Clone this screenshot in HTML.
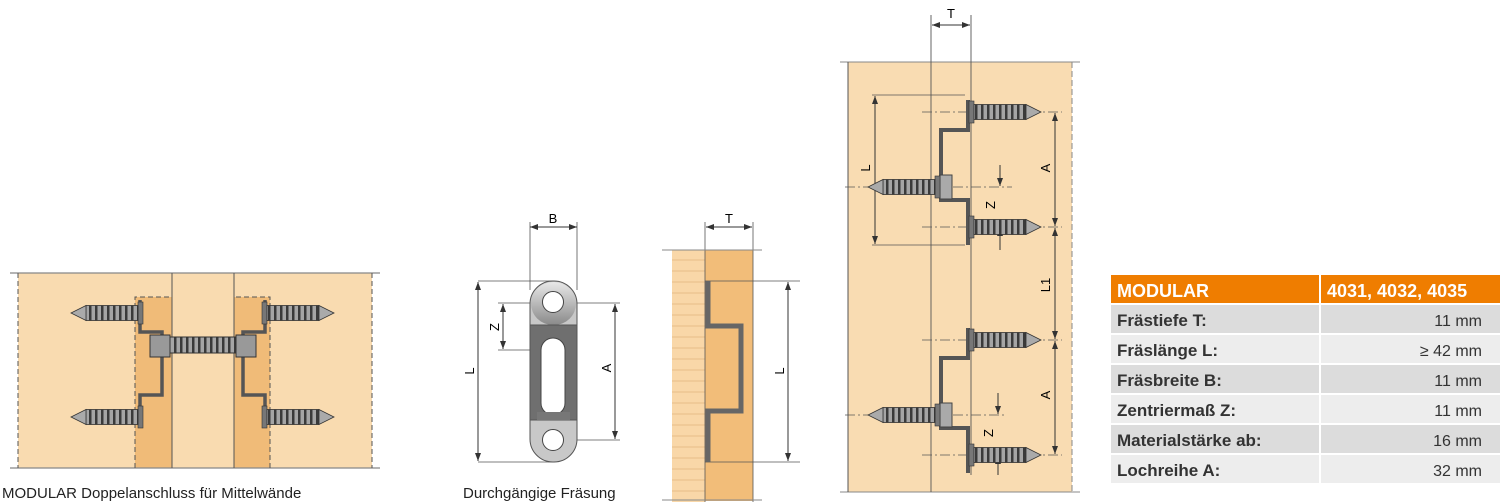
<!DOCTYPE html>
<html><head><meta charset="utf-8"><style>
html,body{margin:0;padding:0;background:#fff;}
svg{display:block;font-family:"Liberation Sans",sans-serif;}
</style></head><body>
<svg width="1500" height="502" viewBox="0 0 1500 502" xmlns="http://www.w3.org/2000/svg">
<defs>
<pattern id="thr" width="6" height="20" patternUnits="userSpaceOnUse">
<rect width="6" height="20" fill="#a5a5a5"/><rect width="2.5" height="20" fill="#3a3a3a"/>
</pattern>
<linearGradient id="pl" x1="0" y1="0" x2="0" y2="1"><stop offset="0" stop-color="#e8e8e8"/><stop offset="1" stop-color="#8a8a8a"/></linearGradient>
<g id="scrR">
<rect x="0" y="-11" width="5" height="22" fill="#777" stroke="#333" stroke-width="0.6"/>
<rect x="5" y="-7.5" width="52" height="15" fill="url(#thr)" stroke="#333" stroke-width="0.8"/>
<polygon points="57,-7.5 72,0 57,7.5" fill="#aaa" stroke="#333" stroke-width="0.8"/>
</g>
<g id="scrL">
<rect x="-5" y="-11" width="5" height="22" fill="#777" stroke="#333" stroke-width="0.6"/>
<rect x="-57" y="-7.5" width="52" height="15" fill="url(#thr)" stroke="#333" stroke-width="0.8"/>
<polygon points="-57,-7.5 -72,0 -57,7.5" fill="#aaa" stroke="#333" stroke-width="0.8"/>
</g>
<marker id="ar" markerWidth="8" markerHeight="6" refX="8" refY="3" orient="auto-start-reverse"><path d="M0,0 L8,3 L0,6 z" fill="#333"/></marker>
</defs>

<!-- LEFT DIAGRAM -->
<rect x="18" y="273" width="354" height="195" fill="#f9dbb0"/>
<rect x="135" y="297" width="37" height="171" fill="#f0bb78"/>
<rect x="234" y="297" width="36" height="171" fill="#f0bb78"/>
<line x1="10" y1="273" x2="380" y2="273" stroke="#888" stroke-width="1.2"/>
<line x1="10" y1="468" x2="380" y2="468" stroke="#888" stroke-width="1.2"/>
<line x1="172" y1="273" x2="172" y2="468" stroke="#555"/>
<line x1="234" y1="273" x2="234" y2="468" stroke="#555"/>
<g stroke="#555" stroke-dasharray="5,3" fill="none">
<line x1="18" y1="273" x2="18" y2="468"/><line x1="372" y1="273" x2="372" y2="468"/>
<path d="M135,468 V297 H172"/><path d="M270,468 V297 H234"/>
</g>
<g stroke="#555" stroke-width="3.5" fill="none">
<path d="M140,300 V332 H162 V395 H140 V428"/><path d="M265,300 V332 H243 V395 H265 V428"/>
</g>
<use href="#scrL" x="143" y="313"/><use href="#scrL" x="143" y="417"/>
<use href="#scrR" x="262" y="313"/><use href="#scrR" x="262" y="417"/>
<rect x="170" y="337" width="66" height="16" fill="url(#thr)" stroke="#333"/>
<rect x="150" y="335" width="20" height="22" fill="#999" stroke="#333"/>
<rect x="236" y="335" width="20" height="22" fill="#999" stroke="#333"/>
<text x="2" y="498" font-size="15" fill="#222">MODULAR Doppelanschluss für Mittelwände</text>

<!-- MIDDLE: plate -->
<g stroke="#555" stroke-width="0.8" fill="none">
<line x1="530" y1="222" x2="530" y2="290"/><line x1="577" y1="222" x2="577" y2="290"/>
<line x1="478" y1="281" x2="553" y2="281"/><line x1="478" y1="462" x2="553" y2="462"/>
<line x1="498" y1="303" x2="620" y2="303"/><line x1="498" y1="350" x2="553" y2="350"/>
<line x1="553" y1="440" x2="620" y2="440"/>
</g>
<line x1="530" y1="227" x2="577" y2="227" stroke="#333" marker-start="url(#ar)" marker-end="url(#ar)"/>
<text x="553" y="223" font-size="13" text-anchor="middle">B</text>
<line x1="478" y1="282" x2="478" y2="461" stroke="#333" marker-start="url(#ar)" marker-end="url(#ar)"/>
<line x1="503" y1="304" x2="503" y2="349" stroke="#333" marker-start="url(#ar)" marker-end="url(#ar)"/>
<line x1="615" y1="304" x2="615" y2="439" stroke="#333" marker-start="url(#ar)" marker-end="url(#ar)"/>
<text transform="translate(474,371) rotate(-90)" font-size="13" text-anchor="middle">L</text>
<text transform="translate(499,327) rotate(-90)" font-size="13" text-anchor="middle">Z</text>
<text transform="translate(611,368) rotate(-90)" font-size="13" text-anchor="middle">A</text>
<rect x="530" y="281" width="47" height="181" rx="23" fill="#c8c8c8" stroke="#555"/>
<rect x="531" y="282" width="45" height="43" rx="22" fill="url(#pl)"/>
<rect x="530" y="325" width="47" height="95" fill="#6f6f6f" stroke="#555"/>
<rect x="541" y="338" width="24" height="77" rx="12" fill="#fff" stroke="#444"/>
<rect x="537" y="412" width="33" height="8" fill="#777"/>
<circle cx="553" cy="302" r="10.5" fill="#fff" stroke="#444"/>
<circle cx="553" cy="440" r="10.5" fill="#fff" stroke="#444"/>
<text x="463" y="498" font-size="15" fill="#222">Durchgängige Fräsung</text>

<!-- MIDDLE: side view -->
<rect x="672" y="250" width="33" height="252" fill="#f9d7a8"/>
<g stroke="#e2b57c" stroke-width="0.8">
<line x1="672" y1="260" x2="705" y2="260"/><line x1="672" y1="271" x2="705" y2="271"/><line x1="672" y1="282" x2="705" y2="282"/><line x1="672" y1="293" x2="705" y2="293"/><line x1="672" y1="304" x2="705" y2="304"/><line x1="672" y1="315" x2="705" y2="315"/><line x1="672" y1="326" x2="705" y2="326"/><line x1="672" y1="337" x2="705" y2="337"/><line x1="672" y1="348" x2="705" y2="348"/><line x1="672" y1="359" x2="705" y2="359"/><line x1="672" y1="370" x2="705" y2="370"/><line x1="672" y1="381" x2="705" y2="381"/><line x1="672" y1="392" x2="705" y2="392"/><line x1="672" y1="403" x2="705" y2="403"/><line x1="672" y1="414" x2="705" y2="414"/><line x1="672" y1="425" x2="705" y2="425"/><line x1="672" y1="436" x2="705" y2="436"/><line x1="672" y1="447" x2="705" y2="447"/><line x1="672" y1="458" x2="705" y2="458"/><line x1="672" y1="469" x2="705" y2="469"/><line x1="672" y1="480" x2="705" y2="480"/><line x1="672" y1="491" x2="705" y2="491"/>
</g>
<rect x="705" y="250" width="48" height="251" fill="#f2bd79"/>
<line x1="705" y1="222" x2="705" y2="502" stroke="#555" stroke-width="0.8"/>
<line x1="753" y1="222" x2="753" y2="502" stroke="#555" stroke-width="0.8"/>
<line x1="662" y1="250" x2="762" y2="250" stroke="#888"/>
<line x1="662" y1="500" x2="762" y2="500" stroke="#888"/>
<line x1="705" y1="281" x2="800" y2="281" stroke="#555" stroke-width="0.8"/>
<line x1="705" y1="462" x2="800" y2="462" stroke="#555" stroke-width="0.8"/>
<line x1="706" y1="227" x2="752" y2="227" stroke="#333" marker-start="url(#ar)" marker-end="url(#ar)"/>
<text x="729" y="223" font-size="13" text-anchor="middle">T</text>
<line x1="788" y1="282" x2="788" y2="461" stroke="#333" marker-start="url(#ar)" marker-end="url(#ar)"/>
<text transform="translate(784,371) rotate(-90)" font-size="13" text-anchor="middle">L</text>
<path d="M708,281 V326 H741 V411 H708 V462" stroke="#666" stroke-width="5" fill="none"/>

<!-- RIGHT DIAGRAM -->
<rect x="848" y="62" width="224" height="430" fill="#f9dcb2"/>
<line x1="840" y1="62" x2="1080" y2="62" stroke="#888"/>
<line x1="840" y1="492" x2="1080" y2="492" stroke="#888"/>
<line x1="848" y1="62" x2="848" y2="492" stroke="#555"/>
<line x1="1072" y1="62" x2="1072" y2="492" stroke="#888" stroke-dasharray="6,3"/>
<line x1="931" y1="15" x2="931" y2="492" stroke="#555" stroke-width="0.9"/>
<line x1="971" y1="15" x2="971" y2="475" stroke="#555" stroke-width="0.9"/>
<line x1="932" y1="25" x2="970" y2="25" stroke="#333" marker-start="url(#ar)" marker-end="url(#ar)"/>
<text x="951" y="18" font-size="13" text-anchor="middle">T</text>
<g stroke="#555" stroke-width="0.8" fill="none" stroke-dasharray="10,3,2,3">
<line x1="922" y1="112" x2="1062" y2="112"/><line x1="845" y1="187" x2="1012" y2="187"/><line x1="922" y1="227" x2="1062" y2="227"/>
<line x1="922" y1="340" x2="1062" y2="340"/><line x1="845" y1="415" x2="1005" y2="415"/><line x1="922" y1="455" x2="1062" y2="455"/>
</g>
<line x1="872" y1="95" x2="965" y2="95" stroke="#555" stroke-width="0.8"/>
<line x1="872" y1="245" x2="965" y2="245" stroke="#555" stroke-width="0.8"/>
<line x1="875" y1="96" x2="875" y2="244" stroke="#333" marker-start="url(#ar)" marker-end="url(#ar)"/>
<text transform="translate(870,168) rotate(-90)" font-size="13" text-anchor="middle">L</text>
<line x1="1055" y1="113" x2="1055" y2="226" stroke="#333" marker-start="url(#ar)" marker-end="url(#ar)"/>
<line x1="1055" y1="228" x2="1055" y2="339" stroke="#333" marker-start="url(#ar)" marker-end="url(#ar)"/>
<line x1="1055" y1="341" x2="1055" y2="454" stroke="#333" marker-start="url(#ar)" marker-end="url(#ar)"/>
<text transform="translate(1050,168) rotate(-90)" font-size="13" text-anchor="middle">A</text>
<text transform="translate(1050,285) rotate(-90)" font-size="13" text-anchor="middle">L1</text>
<text transform="translate(1050,395) rotate(-90)" font-size="13" text-anchor="middle">A</text>
<line x1="1000" y1="165" x2="1000" y2="186" stroke="#333" marker-end="url(#ar)"/>
<line x1="1000" y1="250" x2="1000" y2="228" stroke="#333" marker-end="url(#ar)"/>
<text transform="translate(995,205) rotate(-90)" font-size="13" text-anchor="middle">Z</text>
<line x1="998" y1="393" x2="998" y2="414" stroke="#333" marker-end="url(#ar)"/>
<line x1="998" y1="475" x2="998" y2="456" stroke="#333" marker-end="url(#ar)"/>
<text transform="translate(993,433) rotate(-90)" font-size="13" text-anchor="middle">Z</text>
<g stroke="#555" stroke-width="4" fill="none">
<path d="M968,100 V130 H941 V200 H968 V245"/><path d="M968,328 V358 H941 V428 H968 V473"/>
</g>
<rect x="940" y="175" width="12" height="24" fill="#aaa" stroke="#444"/>
<rect x="940" y="403" width="12" height="24" fill="#aaa" stroke="#444"/>
<use href="#scrR" x="969" y="112"/><use href="#scrR" x="969" y="227"/>
<use href="#scrR" x="969" y="340"/><use href="#scrR" x="969" y="455"/>
<use href="#scrL" x="940" y="187"/><use href="#scrL" x="940" y="415"/>

<!-- TABLE -->
<rect x="1111" y="275" width="208" height="28" fill="#ef7d00"/>
<rect x="1321" y="275" width="179" height="28" fill="#ef7d00"/>
<g fill="#dcdcdc"><rect x="1111" y="305" width="208" height="28"/><rect x="1321" y="305" width="179" height="28"/><rect x="1111" y="365" width="208" height="28"/><rect x="1321" y="365" width="179" height="28"/><rect x="1111" y="425" width="208" height="28"/><rect x="1321" y="425" width="179" height="28"/></g>
<g fill="#ededed"><rect x="1111" y="335" width="208" height="28"/><rect x="1321" y="335" width="179" height="28"/><rect x="1111" y="395" width="208" height="28"/><rect x="1321" y="395" width="179" height="28"/><rect x="1111" y="455" width="208" height="28"/><rect x="1321" y="455" width="179" height="28"/></g>
<g font-size="17" font-weight="bold">
<text x="1117" y="297" fill="#fff" font-size="18">MODULAR</text>
<text x="1327" y="297" fill="#fff" font-size="18">4031, 4032, 4035</text>
<g fill="#333">
<text x="1117" y="326">Frästiefe T:</text>
<text x="1117" y="356">Fräslänge L:</text>
<text x="1117" y="386">Fräsbreite B:</text>
<text x="1117" y="416">Zentriermaß Z:</text>
<text x="1117" y="446">Materialstärke ab:</text>
<text x="1117" y="476">Lochreihe A:</text>
</g></g>
<g font-size="16" fill="#333" text-anchor="end">
<text x="1482" y="326">11 mm</text><text x="1482" y="356">≥ 42 mm</text><text x="1482" y="386">11 mm</text>
<text x="1482" y="416">11 mm</text><text x="1482" y="446">16 mm</text><text x="1482" y="476">32 mm</text>
</g>
</svg>
</body></html>
